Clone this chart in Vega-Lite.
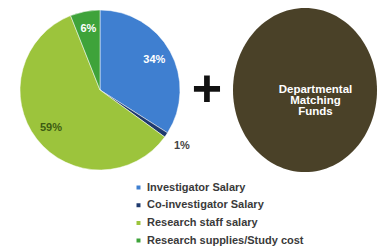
{
  "$schema": "https://vega.github.io/schema/vega-lite/v6.json",
  "padding": 0,
  "spacing": 0,
  "bounds": "flush",
  "background": "white",
  "config": {"view": {"stroke": null}, "concat": {"spacing": 0}},
  "datasets": {
    "budget": [
      {"k": 1, "category": "Investigator Salary", "share": 34, "label": "34%"},
      {"k": 2, "category": "Co-investigator Salary", "share": 1, "label": "1%"},
      {"k": 3, "category": "Research staff salary", "share": 59, "label": "59%"},
      {"k": 4, "category": "Research supplies/Study cost", "share": 6, "label": "6%"}
    ],
    "matching": [{"name": "Departmental Matching Funds", "lines": ["Departmental", "Matching", "Funds"]}],
    "plus": [{"sym": "+"}]
  },
  "hconcat": [
    {
      "width": 200,
      "height": 180,
      "data": {"name": "budget"},
      "encoding": {
        "theta": {"field": "share", "type": "quantitative", "stack": true},
        "order": {"field": "k", "type": "quantitative"}
      },
      "layer": [
        {
          "mark": {"type": "arc", "outerRadius": 80, "stroke": "white", "strokeWidth": 0.5},
          "encoding": {
            "color": {
              "field": "category",
              "type": "nominal",
              "sort": ["Investigator Salary", "Co-investigator Salary", "Research staff salary", "Research supplies/Study cost"],
              "scale": {
                "domain": ["Investigator Salary", "Co-investigator Salary", "Research staff salary", "Research supplies/Study cost"],
                "range": ["#3f7fd0", "#1f3a6e", "#9cc43c", "#3ea33a"]
              },
              "legend": {
                "title": null,
                "orient": "none",
                "legendX": 133,
                "legendY": 182,
                "symbolType": "square",
                "symbolSize": 30,
                "labelFontSize": 11,
                "labelFontWeight": "bold",
                "labelFont": "Liberation Sans",
                "labelColor": "#3a3a3a",
                "rowPadding": 4.7,
                "labelOffset": 3
              }
            }
          }
        },
        {
          "mark": {"type": "text", "radius": 62, "fontWeight": "bold", "fontSize": 11, "font": "Liberation Sans", "clip": true},
          "encoding": {
            "text": {"condition": {"test": "datum.k != 2", "field": "label"}, "value": ""},
            "color": {"condition": {"test": "datum.k == 3", "value": "#3d5c12"}, "value": "white"}
          }
        },
        {
          "mark": {"type": "text", "radius": 99, "fontWeight": "bold", "fontSize": 11, "font": "Liberation Sans", "color": "#444444", "clip": true},
          "encoding": {
            "text": {"condition": {"test": "datum.k == 2", "field": "label"}, "value": ""}
          }
        }
      ]
    },
    {
      "width": 14,
      "height": 180,
      "data": {"name": "plus"},
      "mark": {"type": "text", "fontSize": 52, "fontWeight": "bold", "font": "Liberation Sans", "color": "#111111", "align": "center", "baseline": "middle"},
      "encoding": {"text": {"field": "sym", "type": "nominal"}}
    },
    {
      "width": 165,
      "height": 180,
      "data": {"name": "matching"},
      "layer": [
        {
          "mark": {"type": "point", "filled": true, "opacity": 1, "color": "#4a4128", "size": 20736, "xOffset": 8.5,
                   "shape": "M1,0C1,0.6296 0.5523,1.14 0,1.14C-0.5523,1.14 -1,0.6296 -1,0C-1,-0.6296 -0.5523,-1.14 0,-1.14C0.5523,-1.14 1,-0.6296 1,0Z"},
          "encoding": {"detail": {"field": "name", "type": "nominal"}}
        },
        {
          "mark": {"type": "text", "fontSize": 11.5, "lineHeight": 11, "fontWeight": "bold", "font": "Liberation Sans", "color": "white", "align": "center", "baseline": "middle", "xOffset": 19},
          "encoding": {"text": {"field": "lines", "type": "nominal"}}
        }
      ]
    }
  ]
}
